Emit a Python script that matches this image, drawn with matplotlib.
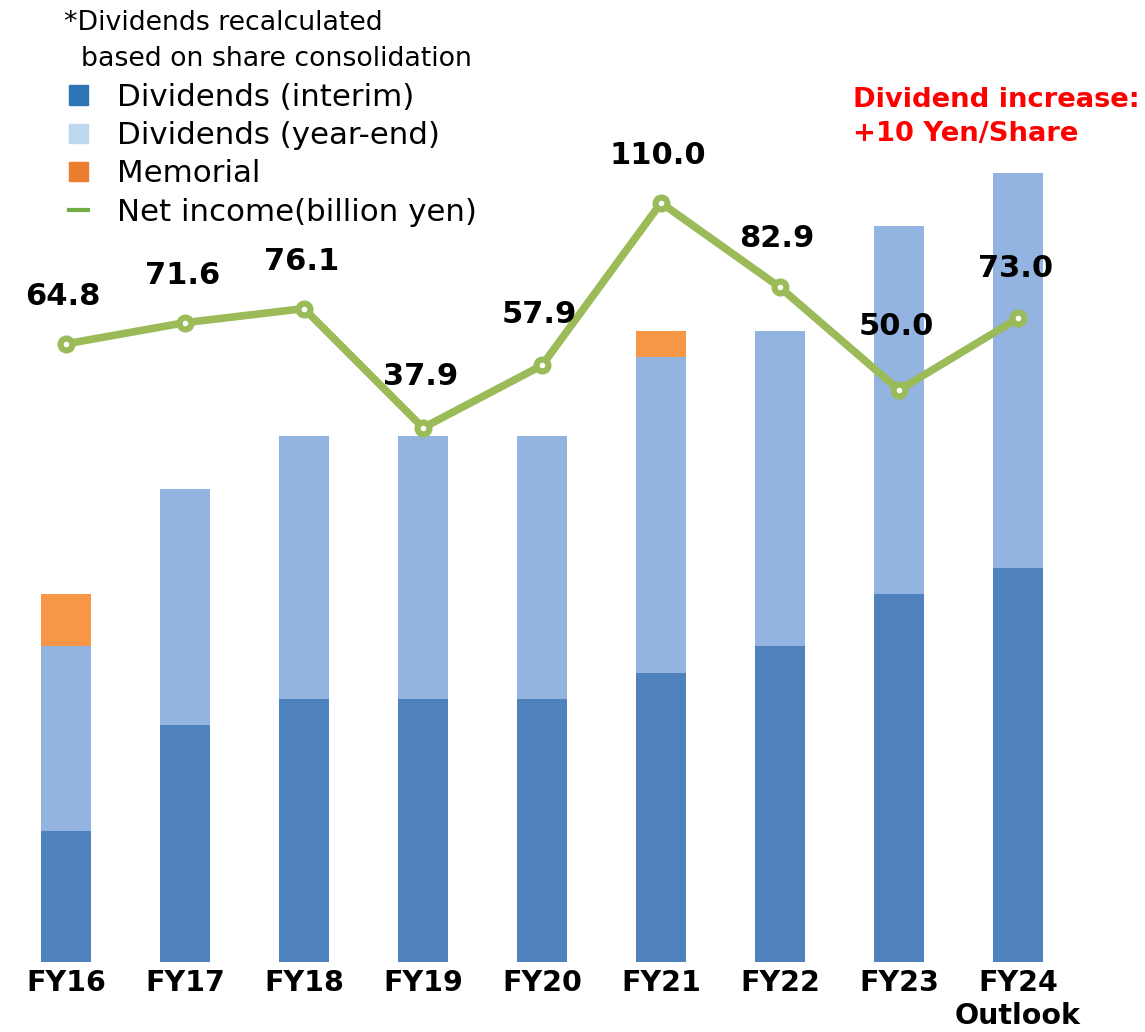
import matplotlib.pyplot as plt
import matplotlib.patches as mpatches
from matplotlib.lines import Line2D

# data
years = ["FY16", "FY17", "FY18", "FY19", "FY20", "FY21", "FY22", "FY23", "FY24\nOutlook"]
interim = [25, 45, 50, 50, 50, 55, 60, 70, 75]
year_end = [35, 45, 50, 50, 50, 60, 60, 70, 75]
memorial = [10, 0, 0, 0, 0, 5, 0, 0, 0]
net_income = [64.8, 71.6, 76.1, 37.9, 57.9, 110.0, 82.9, 50.0, 73.0]
label_offset = [34, 34, 34, 37, 37, 34, 35, 46, 36]

c_interim = "#4F81BD"
c_yearend = "#93B4E0"
c_memorial = "#F79646"
c_line = "#9BBB59"

fig = plt.figure(figsize=(11.45, 10.32), dpi=100)
ax = fig.add_axes([0, 1 - 962 / 1032, 1, 962 / 1032])
x = range(len(years))
w = 0.42

bottom2 = [a + b for a, b in zip(interim, year_end)]
ax.bar(x, interim, w, color=c_interim, zorder=2)
ax.bar(x, year_end, w, bottom=interim, color=c_yearend, zorder=2)
ax.bar(x, memorial, w, bottom=bottom2, color=c_memorial, zorder=2)

ax.set_xlim(-0.555, 9.067)
ax.set_ylim(0, 182.9)
ax.set_yticks([])
ax.set_xticks(list(x))
ax.set_xticklabels(years, fontsize=20.5, fontweight="bold",
                   family="DejaVu Sans", linespacing=1.25)
ax.tick_params(axis="x", length=0, pad=5)
for s in ax.spines.values():
    s.set_visible(False)

ax2 = ax.twinx()
ax2.set_ylim(-133.3, 175.0)
ax2.set_yticks([])
for s in ax2.spines.values():
    s.set_visible(False)
ax2.plot(x, net_income, color=c_line, lw=5.5, marker="o", ms=12,
         mfc=c_line, mec=c_line, solid_capstyle="round", zorder=3)
ax2.plot(x, net_income, ls="none", marker="o", ms=3, mfc="white", mec="white", zorder=4)
for xi, v, off in zip(x, net_income, label_offset):
    ax2.annotate(f"{v:.1f}", (xi, v), xytext=(-2, off), textcoords="offset points",
                 ha="center", va="center", fontsize=22, fontweight="bold", color="black")

fig.text(64 / 1145, 1 - 10 / 1032, "*Dividends recalculated\n  based on share consolidation",
         fontsize=19.3, va="top", ha="left", linespacing=1.5)

handles = [
    mpatches.Patch(color="#2E75B6", label="Dividends (interim)"),
    mpatches.Patch(color="#BDD7EE", label="Dividends (year-end)"),
    mpatches.Patch(color="#ED7D31", label="Memorial"),
    Line2D([], [], color="#70AD47", lw=3, label="Net income(billion yen)"),
]
fig.legend(handles=handles, loc="upper left", bbox_to_anchor=(69 / 1145, 1 - 83 / 1032),
           frameon=False, fontsize=22.2, handlelength=0.6, handleheight=0.6,
           handletextpad=0.95, labelspacing=0.3, borderpad=0, borderaxespad=0)

fig.text(853 / 1145, 1 - 87 / 1032, "Dividend increase:\n+10 Yen/Share", color="#FF0000",
         fontsize=19.7, fontweight="bold", va="top", ha="left", linespacing=1.4)

fig.savefig("out.png", dpi=100)
